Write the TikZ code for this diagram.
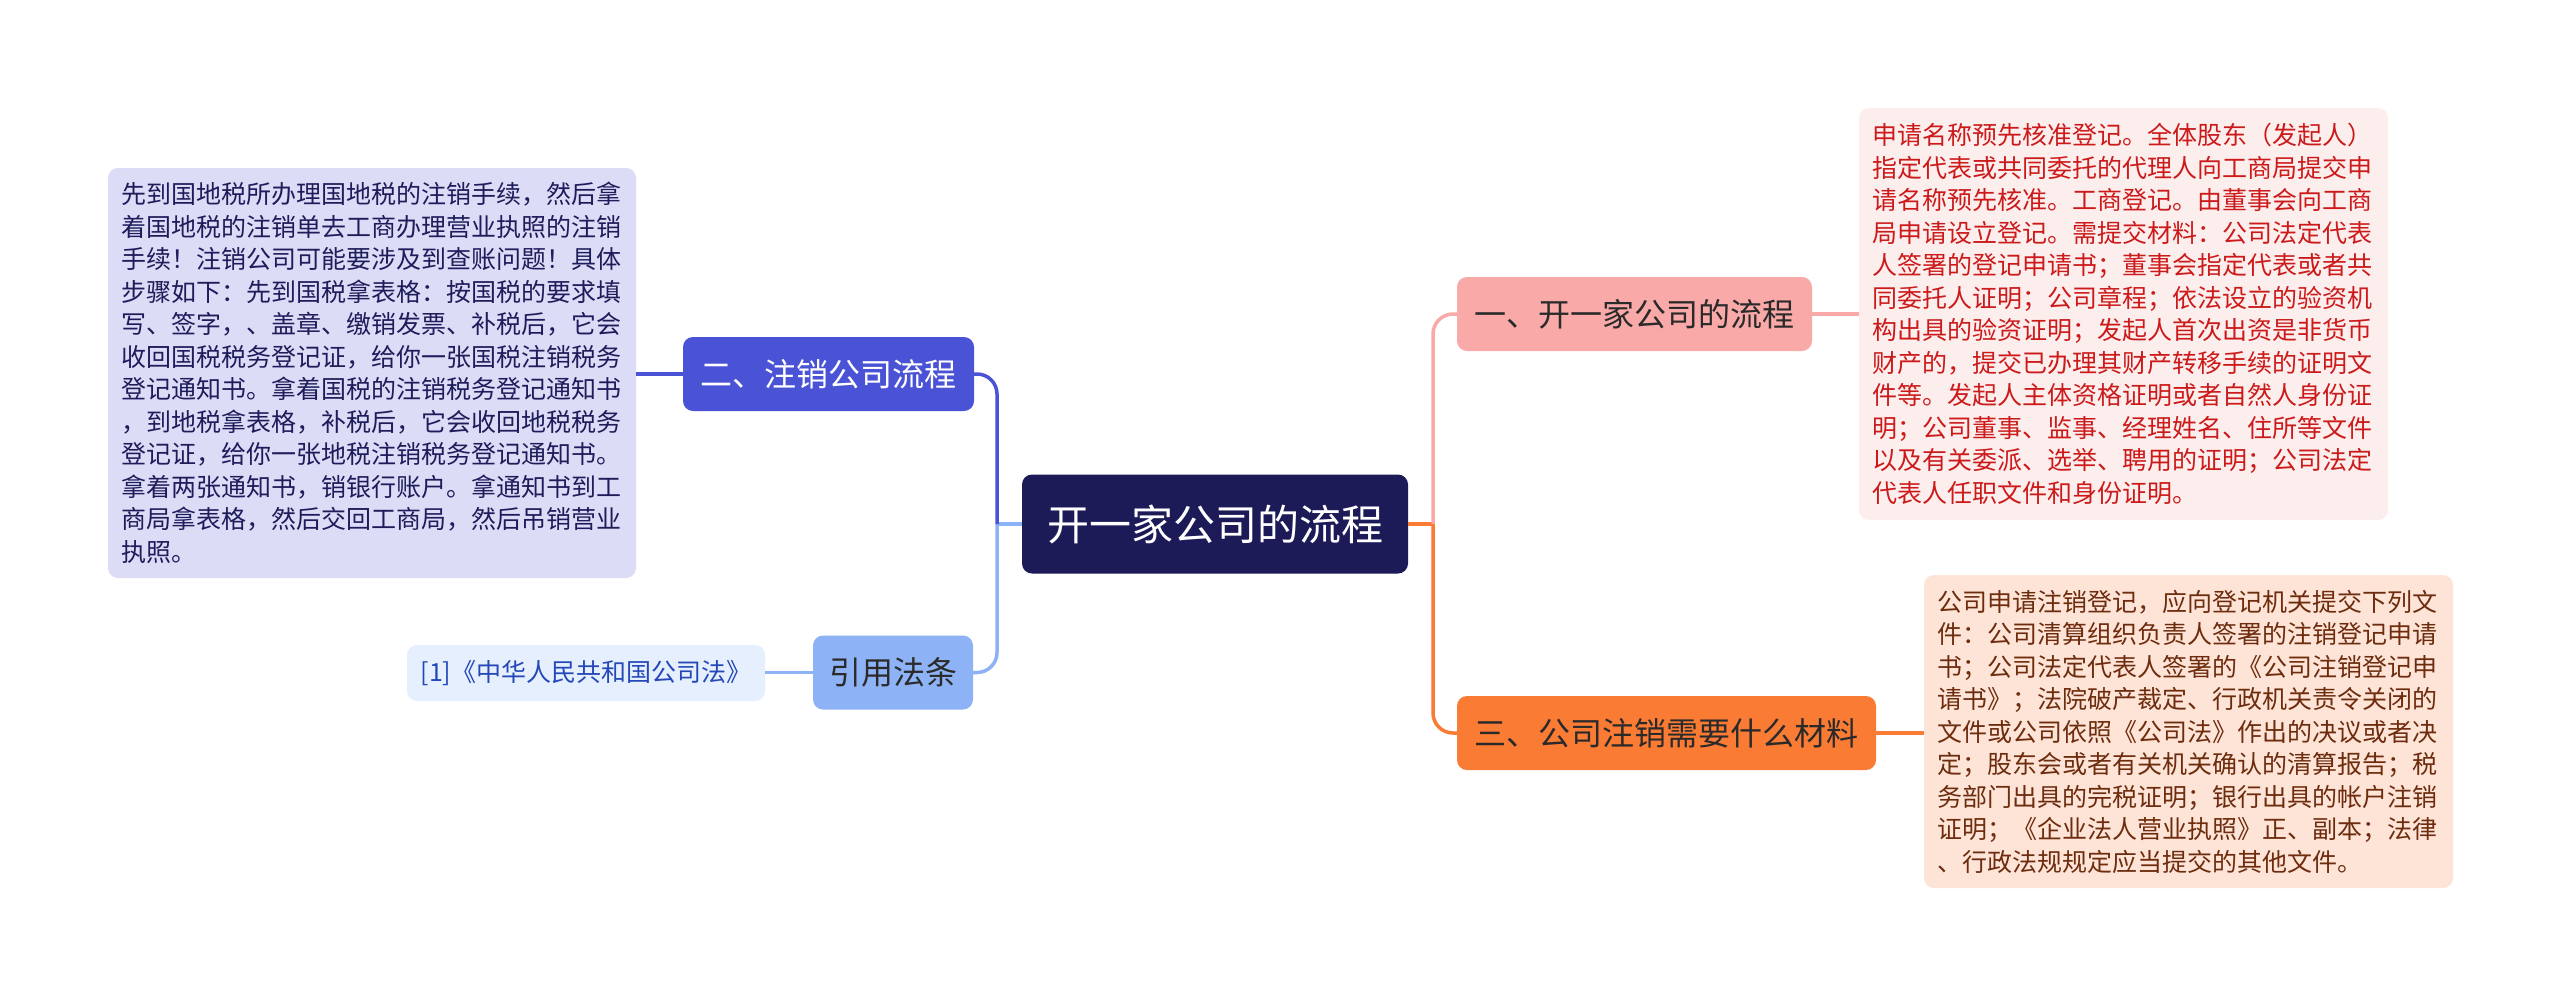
\documentclass[tikz,border=0pt]{standalone}
\usepackage{fontspec}
\setmainfont{Noto Sans CJK SC}
\definecolor{cnavy}{HTML}{1C1A57}
\definecolor{cblue}{HTML}{4A52D6}
\definecolor{clblue}{HTML}{8DB3F6}
\definecolor{cpink}{HTML}{F9A9A8}
\definecolor{corange}{HTML}{FA7B33}
\definecolor{lavender}{HTML}{DCDCF7}
\definecolor{pinkbg}{HTML}{FDEEEE}
\definecolor{peachbg}{HTML}{FDE4D7}
\definecolor{lbluebg}{HTML}{E6EFFD}
\definecolor{redtxt}{HTML}{CC1A1A}
\definecolor{browntxt}{HTML}{6E2C0E}
\definecolor{navytxt}{HTML}{1E1C5A}
\definecolor{bluetxt}{HTML}{2448B8}
\definecolor{darktxt}{HTML}{2A2A2A}
\tikzset{
  topicbox/.style={rounded corners=10pt, inner sep=0pt, font=\fontsize{32}{38}\selectfont, minimum height=74pt},
  detailbox/.style={rounded corners=10pt, inner xsep=13pt, inner ysep=0pt, align=left, font=\fontsize{25}{32.5}\selectfont},
  conn/.style={line width=3.5pt, rounded corners=20pt},
}
\begin{document}
\begin{tikzpicture}[x=1pt,y=-1pt]
\useasboundingbox (0,0) rectangle (2560,999);
\fill[white] (0,0) rectangle (2560,999);

% central topic
\node[rounded corners=10pt, fill=cnavy, text=white, minimum width=386pt, minimum height=99pt, inner sep=0pt, font=\fontsize{42}{48}\selectfont] (c) at (1215,524) {开一家公司的流程};

% main topics
\node[topicbox, fill=cblue, text=white, minimum width=291pt] (b2) at (828.5,374) {二、注销公司流程};
\node[topicbox, fill=clblue, text=darktxt, minimum width=160pt] (b3) at (893,672.5) {引用法条};
\node[topicbox, fill=cpink, text=darktxt, minimum width=355pt] (b1) at (1634.5,314) {一、开一家公司的流程};
\node[topicbox, fill=corange, text=darktxt, minimum width=419pt] (b4) at (1666.5,733) {三、公司注销需要什么材料};

% details
\node[detailbox, fill=lavender, text=navytxt, text width=502pt, minimum height=410pt] (t2) at (372,373) {先到国地税所办理国地税的注销手续，然后拿\\着国地税的注销单去工商办理营业执照的注销\\手续！注销公司可能要涉及到查账问题！具体\\步骤如下：先到国税拿表格：按国税的要求填\\写、签字，、盖章、缴销发票、补税后，它会\\收回国税税务登记证，给你一张国税注销税务\\登记通知书。拿着国税的注销税务登记通知书\\，到地税拿表格，补税后，它会收回地税税务\\登记证，给你一张地税注销税务登记通知书。\\拿着两张通知书，销银行账户。拿通知书到工\\商局拿表格，然后交回工商局，然后吊销营业\\执照。};

\node[detailbox, fill=pinkbg, text=redtxt, text width=503pt, minimum height=412pt] (t1) at (2123.5,314) {申请名称预先核准登记。全体股东（发起人）\\指定代表或共同委托的代理人向工商局提交申\\请名称预先核准。工商登记。由董事会向工商\\局申请设立登记。需提交材料：公司法定代表\\人签署的登记申请书；董事会指定代表或者共\\同委托人证明；公司章程；依法设立的验资机\\构出具的验资证明；发起人首次出资是非货币\\财产的，提交已办理其财产转移手续的证明文\\件等。发起人主体资格证明或者自然人身份证\\明；公司董事、监事、经理姓名、住所等文件\\以及有关委派、选举、聘用的证明；公司法定\\代表人任职文件和身份证明。};

\node[detailbox, fill=peachbg, text=browntxt, text width=503pt, minimum height=313pt] (t4) at (2188.5,731.5) {公司申请注销登记，应向登记机关提交下列文\\件：公司清算组织负责人签署的注销登记申请\\书；公司法定代表人签署的《公司注销登记申\\请书》；法院破产裁定、行政机关责令关闭的\\文件或公司依照《公司法》作出的决议或者决\\定；股东会或者有关机关确认的清算报告；税\\务部门出具的完税证明；银行出具的帐户注销\\证明；《企业法人营业执照》正、副本；法律\\、行政法规规定应当提交的其他文件。};

\node[rounded corners=10pt, fill=lbluebg, text=bluetxt, inner sep=0pt, minimum width=358pt, minimum height=56pt, font=\fontsize{25}{30}\selectfont] (t3) at (586,673) {[1]《中华人民共和国公司法》};

% junctions
\coordinate (jl) at (997,524);
\coordinate (jr) at (1433,524);

% connectors left
\draw[conn, draw=clblue] (c.west) -- (jl);
\draw[conn, draw=clblue] (jl) |- (b3.east);
\draw[conn, draw=cblue] (jl) |- (b2.east);
% connectors right
\draw[conn, draw=corange] (c.east) -- (jr);
\draw[conn, draw=cpink] (jr) |- (b1.west);
\draw[conn, draw=corange] (jr) |- (b4.west);

% leaf connectors
\draw[conn, draw=cpink] (b1.east) -- (b1.east -| t1.west);
\draw[conn, draw=corange] (b4.east) -- (b4.east -| t4.west);
\draw[conn, draw=cblue] (b2.west) -- (b2.west -| t2.east);
\draw[conn, draw=clblue] (b3.west) -- (b3.west -| t3.east);
\end{tikzpicture}
\end{document}
